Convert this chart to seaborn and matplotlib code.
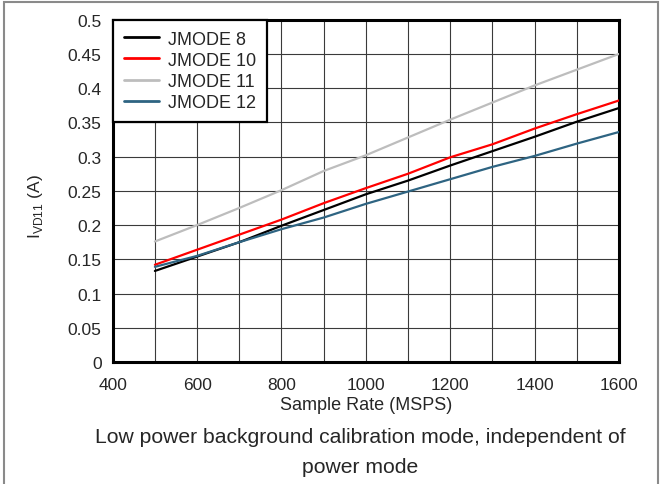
import numpy as np
import pandas as pd
import matplotlib
matplotlib.use("Agg")
import matplotlib.pyplot as plt
import seaborn as sns
from matplotlib.patches import Rectangle

sample_rate = [500, 600, 700, 800, 900, 1000, 1100, 1200, 1300, 1400, 1500, 1600]
jmode8 = [0.133, 0.154, 0.175, 0.199, 0.222, 0.245, 0.265, 0.287, 0.308, 0.329, 0.351, 0.371]
jmode10 = [0.142, 0.164, 0.186, 0.208, 0.232, 0.254, 0.275, 0.299, 0.318, 0.341, 0.362, 0.382]
jmode11 = [0.176, 0.200, 0.225, 0.251, 0.279, 0.302, 0.328, 0.354, 0.379, 0.404, 0.427, 0.450]
jmode12 = [0.139, 0.155, 0.175, 0.194, 0.211, 0.231, 0.249, 0.267, 0.285, 0.301, 0.319, 0.336]
series_names = ["JMODE 8", "JMODE 10", "JMODE 11", "JMODE 12"]
colors = ["#000000", "#FF0000", "#BDBDBD", "#2E6482"]
x_ticks = [400, 600, 800, 1000, 1200, 1400, 1600]
y_ticks = [0, 0.05, 0.1, 0.15, 0.2, 0.25, 0.3, 0.35, 0.4, 0.45, 0.5]

df = pd.concat([
    pd.DataFrame({"x": sample_rate, "y": vals, "series": name})
    for name, vals in zip(series_names, [jmode8, jmode10, jmode11, jmode12])
])

sns.set_style("white")
plt.rcParams['font.family'] = ['Liberation Sans', 'DejaVu Sans']

W, H = 662, 485
fig = plt.figure(figsize=(W / 100, H / 100), dpi=100)
ax_l, ax_r, ax_t, ax_b = 112.7, 619.0, 20.7, 363.0
ax = fig.add_axes([ax_l / W, 1 - ax_b / H, (ax_r - ax_l) / W, (ax_b - ax_t) / H])

sns.lineplot(data=df, x="x", y="y", hue="series", hue_order=series_names,
             palette=dict(zip(series_names, colors)), linewidth=1.6, ax=ax, zorder=3)

ax.set_xlim(400, 1600)
ax.set_ylim(0, 0.5)
ax.set_xticks(x_ticks)
ax.set_xticks(np.arange(500, 1600, 200), minor=True)
ax.set_xticklabels([str(t) for t in x_ticks], fontsize=12.5)
ax.set_yticks(y_ticks)
ax.set_yticklabels([("%g" % t) for t in y_ticks], fontsize=12.5)
ax.grid(True, which="both", color="#3a3a3a", linewidth=0.8, zorder=0)
ax.tick_params(axis="both", which="both", length=0)
ax.tick_params(axis="x", pad=11)
ax.tick_params(axis="y", pad=8)
for s in ax.spines.values():
    s.set_linewidth(2.2)
    s.set_color("black")
    s.set_visible(True)

ax.set_xlabel("Sample Rate (MSPS)", fontsize=13, labelpad=3)
ax.set_ylabel("I$_{\\mathregular{VD11}}$ (A)", fontsize=12.5)
ax.yaxis.set_label_coords((45 - ax_l) / (ax_r - ax_l), (ax_b - 207) / (ax_b - ax_t))

leg = ax.legend(loc="upper left", fontsize=13, frameon=True, fancybox=False,
                borderaxespad=0, handlelength=1.95, handletextpad=0.5,
                labelspacing=0.23, borderpad=0.6)
leg.get_frame().set_edgecolor("black")
leg.get_frame().set_linewidth(1.6)
leg.get_frame().set_alpha(1)
for line in leg.get_lines():
    line.set_linewidth(2.0)

fig.text(360 / W, 1 - 438 / H, "Low power background calibration mode, independent of",
         ha="center", va="center", fontsize=15.2)
fig.text(360 / W, 1 - 468 / H, "power mode", ha="center", va="center", fontsize=15.2)

border = Rectangle((4 / W, -0.1), 654 / W, 1.1 - 3 / H, transform=fig.transFigure,
                   fill=False, edgecolor="#8a8a8a", linewidth=1.5, clip_on=False)
fig.patches.append(border)

fig.savefig("out.png", dpi=100)
